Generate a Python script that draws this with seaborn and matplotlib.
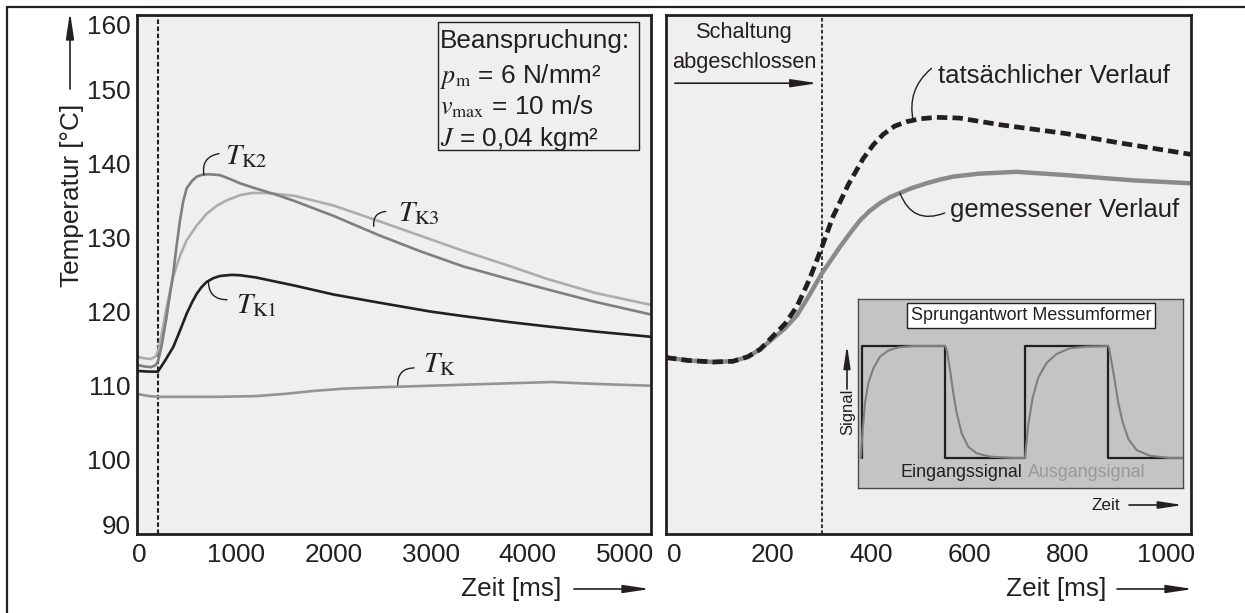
import matplotlib
matplotlib.use("Agg")
import matplotlib.pyplot as plt
import seaborn as sns
from matplotlib import font_manager
from matplotlib.patches import Rectangle, FancyArrowPatch
from matplotlib.lines import Line2D

# ---------------- data: left panel (Zeit in ms, Temperatur in °C) ----------------
tk1_ms = [-25, 100, 190, 260, 348, 420, 486, 540, 590, 640, 693, 760, 830, 950, 1036, 1200,
          1600, 2000, 2470, 3000, 3330, 3800, 4200, 4700, 5270]
tk1_T = [112.0, 111.9, 111.9, 113.3, 115.2, 117.5, 119.7, 121.2, 122.4, 123.3, 124.0, 124.5,
         124.8, 124.95, 124.9, 124.6, 123.5, 122.3, 121.2, 120.0, 119.4, 118.6, 118.0, 117.3, 116.6]

tk2_ms = [-25, 50, 120, 170, 194, 230, 280, 320, 348, 380, 418, 450, 486, 540, 590, 658, 740,
          830, 930, 1036, 1200, 1400, 1600, 2000, 2467, 2900, 3333, 3800, 4200, 4700, 5270]
tk2_T = [112.8, 112.6, 112.5, 112.8, 113.4, 115.5, 119.3, 122.8, 125.1, 128.6, 132.3, 134.8,
         136.6, 137.6, 138.2, 138.5, 138.5, 138.4, 137.9, 137.3, 136.6, 135.8, 134.9, 132.9,
         130.3, 128.1, 126.1, 124.4, 123.0, 121.3, 119.6]

tk3_ms = [-25, 50, 120, 170, 194, 230, 280, 348, 420, 486, 590, 693, 800, 899, 1036, 1166,
          1300, 1600, 2000, 2467, 2900, 3333, 3800, 4200, 4700, 5270]
tk3_T = [113.9, 113.7, 113.6, 114.0, 114.8, 117.0, 120.6, 124.7, 127.6, 129.6, 131.6, 133.2,
         134.3, 135.0, 135.7, 136.0, 136.0, 135.6, 134.3, 132.2, 130.2, 128.2, 126.2, 124.4,
         122.5, 120.9]

tk_ms = [-25, 100, 190, 400, 800, 1200, 1500, 1800, 2100, 2500, 3000, 3500, 4000, 4250, 4500,
         4900, 5270]
tk_T = [108.9, 108.6, 108.5, 108.5, 108.5, 108.6, 108.9, 109.3, 109.6, 109.8, 110.0, 110.2,
        110.4, 110.5, 110.35, 110.15, 110.0]

left_xticks = [0, 1000, 2000, 3000, 4000, 5000]
left_yticks = [90, 100, 110, 120, 130, 140, 150, 160]
switch_left_ms = 190

# ---------------- data: right panel ----------------
meas_ms = [-16, 30, 80, 120, 150, 175, 200, 225, 250, 275, 300, 337, 358, 378, 398, 418, 438,
           459, 485, 513, 540, 567, 620, 696, 797, 932, 1050]
meas_T = [113.8, 113.4, 113.2, 113.3, 113.9, 114.9, 116.3, 117.7, 119.5, 122.2, 125.1, 128.7,
          130.6, 132.3, 133.6, 134.6, 135.4, 136.0, 136.7, 137.3, 137.8, 138.2, 138.6, 138.85,
          138.4, 137.7, 137.3]
act_ms = [-16, 30, 80, 120, 150, 175, 200, 225, 250, 275, 300, 323, 354, 384, 405, 425, 448,
          472, 500, 533, 580, 662, 797, 900, 1050]
act_T = [113.8, 113.4, 113.2, 113.3, 113.9, 114.9, 116.6, 118.3, 120.7, 124.3, 128.6, 132.8,
         137.1, 140.6, 142.5, 143.9, 145.0, 145.6, 146.0, 146.2, 146.1, 145.2, 144.0, 142.8, 141.2]
right_xticks = [0, 200, 400, 600, 800, 1000]
switch_right_ms = 300

# ---------------- data: inset (step response) ----------------
in_t = [4, 4, 87, 87, 167, 167, 250, 250, 325]
in_v = [0, 1, 1, 0, 0, 1, 1, 0, 0]
out_t = [2.7, 4.7, 7, 10.3, 15.3, 22, 30.3, 40.3, 55, 87, 88, 89.3, 92, 95.3, 98.7, 103.7, 110.3,
         118.7, 132, 155, 167, 170.3, 174.7, 180.3, 188.7, 198.7, 212, 228.7, 250, 251,
         252.7, 256, 260.3, 264.7, 270.3, 278.7, 292, 312, 325]
out_v = [0, 0.25, 0.49, 0.67, 0.80, 0.905, 0.96, 0.988, 1.0, 1.0, 0.985, 0.94, 0.79, 0.58, 0.40,
         0.22, 0.10, 0.042, 0.012, 0.0, 0.0, 0.30, 0.54, 0.72, 0.85, 0.93, 0.98, 0.995, 1.0,
         0.985, 0.90, 0.73, 0.49, 0.32, 0.17, 0.07, 0.02, 0.0, 0.0]

# ---------------- styling ----------------
sns.set_theme(style="white")
plt.rcParams["font.family"] = ["Liberation Sans", "DejaVu Sans"]
plt.rcParams["mathtext.fontset"] = "stix"

names = {f.name for f in font_manager.fontManager.ttflist}
if "Liberation Sans Narrow" in names:
    NARROW = ["Liberation Sans Narrow", "DejaVu Sans"]
    NS = 1.0
else:
    NARROW = ["Liberation Sans", "DejaVu Sans"]
    NS = 0.84

INK = "#231f20"
BG = "#efefef"
FS = 18.8

W, H = 1245, 613
fig = plt.figure(figsize=(W / 100, H / 100), dpi=100)
fig.patch.set_facecolor("white")


def fx(px):
    return px / W


def fy(py):
    return 1 - py / H


def fig_arrow(x0, y0, x1, y1, ms=20, lw=1.2):
    fig.add_artist(FancyArrowPatch((fx(x0), fy(y0)), (fx(x1), fy(y1)),
                                   transform=fig.transFigure,
                                   arrowstyle="-|>,head_length=0.8,head_width=0.12",
                                   mutation_scale=ms, lw=lw, color=INK,
                                   shrinkA=0, shrinkB=0))


axL = fig.add_axes([fx(137), fy(534), fx(651) - fx(137), fy(15) - fy(534)])
axR = fig.add_axes([fx(666), fy(534), fx(1191) - fx(666), fy(15) - fy(534)])

for ax in (axL, axR):
    ax.set_facecolor(BG)
    for s in ax.spines.values():
        s.set_visible(True)
        s.set_color(INK)
        s.set_linewidth(2.0)
    ax.set_ylim(90, 160)

# ---------------- left panel ----------------
axL.axvline(switch_left_ms, color=INK, lw=1.5, linestyle=(0, (2.2, 1.2)), zorder=1)
sns.lineplot(x=tk3_ms, y=tk3_T, ax=axL, color="#adadad", lw=1.9, sort=False, estimator=None)
sns.lineplot(x=tk2_ms, y=tk2_T, ax=axL, color="#7f7f7f", lw=1.9, sort=False, estimator=None)
sns.lineplot(x=tk_ms, y=tk_T, ax=axL, color="#949494", lw=1.9, sort=False, estimator=None)
sns.lineplot(x=tk1_ms, y=tk1_T, ax=axL, color=INK, lw=1.9, sort=False, estimator=None)
axL.set_xlim(-25, 5270)
axL.set_xticks(left_xticks)
axL.set_yticks(left_yticks)
axL.tick_params(axis="both", length=0, labelsize=FS, colors=INK)
axL.tick_params(axis="x", pad=6.5)
axL.tick_params(axis="y", pad=4.5)
ylabs = axL.get_yticklabels()
ylabs[-1].set_va("top")
ylabs[0].set_va("baseline")

axL.set_ylabel("Temperatur [°C]", fontsize=FS, color=INK, va="center")
axL.yaxis.set_label_coords((71.5 - 137) / 514, (534 - 195) / 519)
axL.set_xlabel("Zeit [ms]", fontsize=FS, color=INK, va="center")
axL.xaxis.set_label_coords((511 - 137) / 514, (534 - 589) / 519)

# curve labels
lab_kw = dict(fontsize=21, color=INK, ha="left", va="baseline")
leader_kw = dict(arrowstyle="-", color=INK, lw=1.0, shrinkA=0, shrinkB=0)
axL.text(881, 139.9, r"$T_{\mathrm{K2}}$", **lab_kw)
axL.annotate("", xy=(665, 138.4), xytext=(820, 141.3),
             arrowprops=dict(connectionstyle="arc3,rad=0.5", **leader_kw))
axL.text(2661, 132.2, r"$T_{\mathrm{K3}}$", **lab_kw)
axL.annotate("", xy=(2414, 131.5), xytext=(2537, 133.5),
             arrowprops=dict(connectionstyle="arc3,rad=0.5", **leader_kw))
axL.text(995, 119.8, r"$T_{\mathrm{K1}}$", **lab_kw)
axL.annotate("", xy=(711, 124.1), xytext=(902, 121.6),
             arrowprops=dict(connectionstyle="arc3,rad=-0.5", **leader_kw))
axL.text(2921, 111.9, r"$T_{\mathrm{K}}$", **lab_kw)
axL.annotate("", xy=(2661, 110.1), xytext=(2830, 112.4),
             arrowprops=dict(connectionstyle="arc3,rad=0.5", **leader_kw))

# load box
axL.add_patch(Rectangle((3072, 141.8), 5149 - 3072, 159.0 - 141.8, fill=False,
                        ec=INK, lw=1.0, zorder=4))
box_lines = ["Beanspruchung:", r"$p_{\mathrm{m}}$ = 6 N/mm²",
             r"$v_{\mathrm{max}}$ = 10 m/s", r"$J$ = 0,04 kgm²"]
box_y = [156.8, 152.3, 148.0, 143.8]
for s, yv in zip(box_lines, box_y):
    axL.text(3100, yv, s, fontsize=FS, color=INK, ha="left", va="center_baseline", zorder=5)

# ---------------- right panel ----------------
axR.axvline(switch_right_ms, color=INK, lw=1.3, linestyle=(0, (2.0, 1.3)), zorder=1)
sns.lineplot(x=meas_ms, y=meas_T, ax=axR, color="#8a8a8a", lw=3.2, sort=False, estimator=None)
sns.lineplot(x=act_ms, y=act_T, ax=axR, color=INK, lw=3.4, sort=False, estimator=None)
axR.lines[-1].set_dashes([2.2, 1.1])
axR.set_xlim(-16, 1050)
axR.set_xticks(right_xticks)
axR.set_yticks([])
axR.tick_params(axis="both", length=0, labelsize=FS, colors=INK)
axR.tick_params(axis="x", pad=6.5)
axR.set_xlabel("Zeit [ms]", fontsize=FS, color=INK, va="center")
axR.xaxis.set_label_coords((1056 - 666) / 525, (534 - 589) / 519)
axR.set_ylabel("")

axR.text(144, 157.6, "Schaltung", fontsize=18.7 * NS, family=NARROW, color=INK,
         ha="center", va="center")
axR.text(142, 153.66, "abgeschlossen", fontsize=18.7 * NS, family=NARROW, color=INK,
         ha="center", va="center")
axR.annotate("", xy=(292, 150.8), xytext=(2, 150.8),
             arrowprops=dict(arrowstyle="-|>,head_length=0.8,head_width=0.12",
                             mutation_scale=20, lw=1.2, color=INK, shrinkA=0, shrinkB=0))

axR.text(536, 150.8, "tatsächlicher Verlauf", fontsize=18.5, color=INK, ha="left", va="baseline")
axR.annotate("", xy=(486, 145.7), xytext=(523, 152.8),
             arrowprops=dict(connectionstyle="arc3,rad=0.3", **leader_kw))
axR.text(560, 132.8, "gemessener Verlauf", fontsize=18.5, color=INK, ha="left", va="baseline")
axR.annotate("", xy=(459, 136.0), xytext=(550, 133.3),
             arrowprops=dict(connectionstyle="arc3,rad=-0.5", **leader_kw))

# ---------------- inset ----------------
axI = fig.add_axes([fx(858), fy(488), fx(1183) - fx(858), fy(299) - fy(488)])
axI.set_facecolor("#c4c4c4")
for s in axI.spines.values():
    s.set_visible(True)
    s.set_color("#4a4a4a")
    s.set_linewidth(1.0)
sns.lineplot(x=in_t, y=in_v, ax=axI, color=INK, lw=1.6, sort=False, estimator=None)
sns.lineplot(x=out_t, y=out_v, ax=axI, color="#7e7e7e", lw=1.5, sort=False, estimator=None)
axI.set_xlim(0, 325)
axI.set_ylim(-0.268, 1.42)
axI.set_xticks([])
axI.set_yticks([])
axI.set_xlabel("")
axI.set_ylabel("")
axI.text(0.532, 0.913, "Sprungantwort Messumformer", transform=axI.transAxes,
         fontsize=15.3 * NS, family=NARROW, color=INK, ha="center", va="center",
         bbox=dict(boxstyle="square,pad=0.22", fc="white", ec=INK, lw=1.0))
axI.text(0.317, 0.0794, "Eingangssignal", transform=axI.transAxes, fontsize=15.3 * NS,
         family=NARROW, color=INK, ha="center", va="center")
axI.text(0.705, 0.0794, "Ausgangsignal", transform=axI.transAxes, fontsize=15.3 * NS,
         family=NARROW, color="#9a9a9a", ha="center", va="center")

fig.text(fx(848), fy(412), "Signal", rotation=90, fontsize=14.2 * NS, family=NARROW,
         color=INK, ha="center", va="center")
fig_arrow(847, 389, 847, 345, ms=17)
fig.text(fx(1106), fy(505), "Zeit", fontsize=14.7 * NS, family=NARROW, color=INK,
         ha="center", va="center")
fig_arrow(1129, 505, 1183, 505, ms=18)

# ---------------- axis arrows ----------------
fig_arrow(70, 89, 70, 12)
fig_arrow(574, 589, 650, 589)
fig_arrow(1117, 589, 1193, 589)

# ---------------- outer frame ----------------
fig.add_artist(Line2D([fx(7), fx(W + 5)], [fy(7), fy(7)], transform=fig.transFigure,
                      color=INK, lw=1.6))
fig.add_artist(Line2D([fx(7), fx(7)], [fy(7), fy(H + 5)], transform=fig.transFigure,
                      color=INK, lw=1.6))

fig.savefig("out.png", dpi=100)
